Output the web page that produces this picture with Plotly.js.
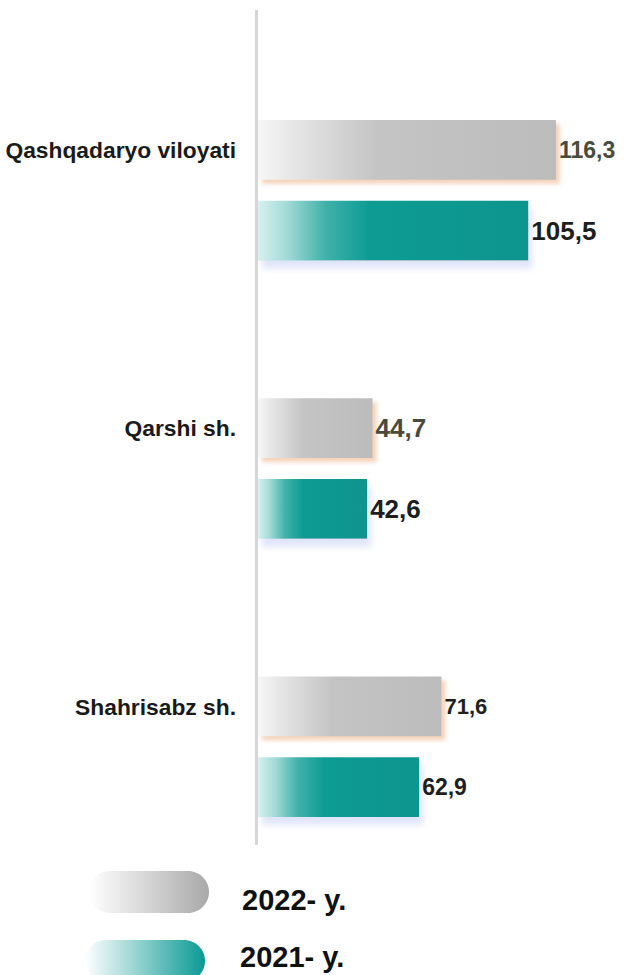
<!DOCTYPE html>
<html>
<head>
<meta charset="utf-8">
<script src="https://cdn.plot.ly/plotly-3.0.1.min.js"></script>
<style>
  html, body { margin: 0; padding: 0; background: #fff; }
  #chart { width: 641px; height: 975px; }
</style>
</head>
<body>
<div id="chart"></div>
<script>
// data
const regions = ['Qashqadaryo viloyati', 'Qarshi sh.', 'Shahrisabz sh.'];
const values2022 = [116.3, 44.7, 71.6];
const values2021 = [105.5, 42.6, 62.9];
const seriesNames = ['2022- y.', '2021- y.'];

const FONT = 'Arial, "Liberation Sans", sans-serif';
const fmt = v => v.toFixed(1).replace('.', ',');

const barTrace = (name, values, sizes, colors) => ({
  type: 'bar',
  orientation: 'h',
  name: name,
  y: regions,
  x: values,
  text: values.map(fmt),
  textposition: 'outside',
  cliponaxis: false,
  textfont: {family: FONT, weight: 'bold', size: sizes, color: colors},
  marker: {color: name === seriesNames[0] ? '#c2c2c2' : '#0a9a93', line: {width: 0}},
  hoverinfo: 'skip',
});

const pillPath = 'M-39,-21 L39,-21 C50.6,-21 60,-11.6 60,0 C60,11.6 50.6,21 39,21 ' +
  'L-39,21 C-50.6,21 -60,11.6 -60,0 C-60,-11.6 -50.6,-21 -39,-21 Z';

const pill = (cx, cy, fill) => ({
  type: 'path', xref: 'paper', yref: 'paper',
  xsizemode: 'pixel', ysizemode: 'pixel',
  xanchor: cx, yanchor: cy,
  path: pillPath,
  fillcolor: fill,
  line: {width: 0},
});

const data = [
  barTrace(seriesNames[0], values2022, [23, 26, 22], ['#4b4b3d', '#4b4b3d', '#1e1e1e']),
  barTrace(seriesNames[1], values2021, [26, 26, 23], ['#1e1e1e', '#1e1e1e', '#1e1e1e']),
];

const layout = {
  width: 641,
  height: 975,
  margin: {l: 258, r: 0, t: 51, b: 89},
  paper_bgcolor: '#fff',
  plot_bgcolor: '#fff',
  showlegend: false,
  barmode: 'group',
  bargap: 0.42,
  bargroupgap: 0.26,
  xaxis: {
    range: [0, 149.5],
    showgrid: false, zeroline: false, showticklabels: false, ticks: '',
  },
  yaxis: {
    type: 'category',
    autorange: 'reversed',
    showgrid: false, zeroline: false, showline: false, ticks: '',
    ticklabelstandoff: 21,
    ticklabelshift: 40,
    tickfont: {family: FONT, weight: 'bold', size: 22.8, color: '#1a1a1a'},
  },
  shapes: [
    {type: 'line', xref: 'paper', yref: 'paper', layer: 'below',
     x0: -0.004, x1: -0.004, y0: 0.049, y1: 1.049,
     line: {color: '#d6d6d6', width: 3}},
    pill(-0.2846, -0.0072, '#cccccc'),
    pill(-0.2950, -0.0898, '#5bbcb6'),
  ],
  annotations: [
    {xref: 'paper', yref: 'paper', x: -0.047, y: -0.0168, xanchor: 'left', yanchor: 'middle',
     showarrow: false, text: seriesNames[0],
     font: {family: FONT, weight: 'bold', size: 29, color: '#111'}},
    {xref: 'paper', yref: 'paper', x: -0.0522, y: -0.085, xanchor: 'left', yanchor: 'middle',
     showarrow: false, text: seriesNames[1],
     font: {family: FONT, weight: 'bold', size: 29, color: '#111'}},
  ],
};

const SVGNS = 'http://www.w3.org/2000/svg';

const addGradient = (defs, id, stops) => {
  const g = document.createElementNS(SVGNS, 'linearGradient');
  g.setAttribute('id', id);
  g.setAttribute('x1', '0'); g.setAttribute('y1', '0');
  g.setAttribute('x2', '1'); g.setAttribute('y2', '0');
  stops.forEach(([offset, color]) => {
    const s = document.createElementNS(SVGNS, 'stop');
    s.setAttribute('offset', offset);
    s.setAttribute('stop-color', color);
    g.appendChild(s);
  });
  defs.appendChild(g);
};

const addShadow = (defs, id, dx, dy, blur, color) => {
  const f = document.createElementNS(SVGNS, 'filter');
  f.setAttribute('id', id);
  f.setAttribute('x', '-0.1'); f.setAttribute('y', '-0.2');
  f.setAttribute('width', '1.3'); f.setAttribute('height', '1.6');
  const d = document.createElementNS(SVGNS, 'feDropShadow');
  d.setAttribute('dx', dx); d.setAttribute('dy', dy);
  d.setAttribute('stdDeviation', blur);
  d.setAttribute('flood-color', color);
  d.setAttribute('flood-opacity', '0.9');
  f.appendChild(d);
  defs.appendChild(f);
};

// plotly has no bar gradients, so paint them into the svg afterwards
const decorate = gd => {
  const defs = gd.querySelector('svg.main-svg defs');
  addGradient(defs, 'gBar2022', [[0, '#f7f7f7'], [0.12, '#e6e6e6'], [0.4, '#c4c4c4'], [1, '#bcbcbc']]);
  addGradient(defs, 'gBar2021', [[0, '#d6f1ef'], [0.1, '#a6dcd8'], [0.25, '#40b1aa'], [0.42, '#0b9b93'], [1, '#08958f']]);
  addGradient(defs, 'gPill2022', [[0, '#ffffff'], [1, '#a9a9a9']]);
  addGradient(defs, 'gPill2021', [[0, '#ffffff'], [1, '#0a9a93']]);
  addShadow(defs, 'sh2022', 4, 4, 2, '#f4cdb0');
  addShadow(defs, 'sh2021', 4, 8, 3, '#dde2f8');

  const traces = gd.querySelectorAll('.barlayer .trace');
  ['2022', '2021'].forEach((yr, i) => {
    traces[i].querySelectorAll('.point path').forEach(p => {
      p.style.fill = `url(#gBar${yr})`;
      p.setAttribute('filter', `url(#sh${yr})`);
    });
  });

  const pills = gd.querySelectorAll('.layer-above .shapelayer path');
  if (pills[0]) pills[0].style.fill = 'url(#gPill2022)';
  if (pills[1]) pills[1].style.fill = 'url(#gPill2021)';
};

Plotly.newPlot('chart', data, layout, {displayModeBar: false, staticPlot: true})
  .then(decorate);
</script>
</body>
</html>
